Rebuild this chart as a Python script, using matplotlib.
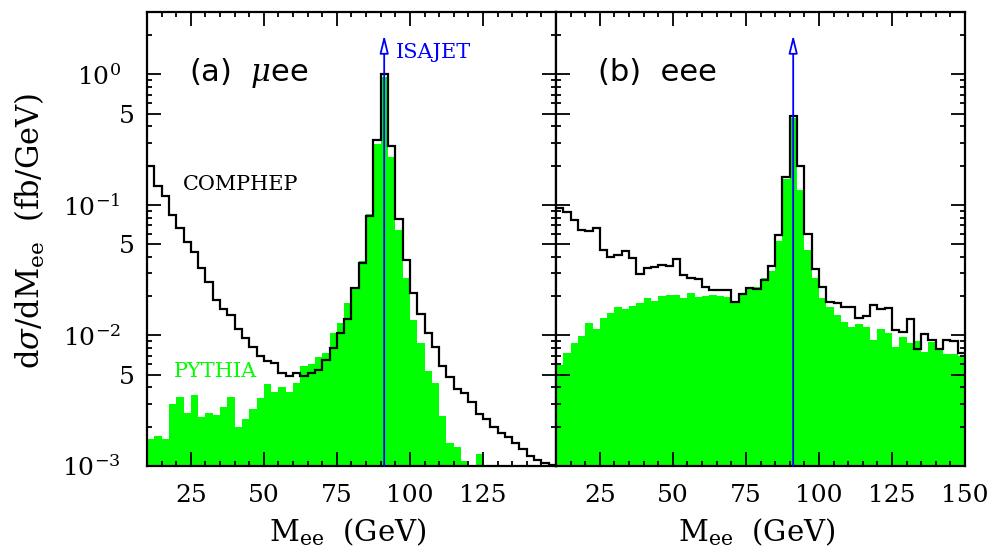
import matplotlib

matplotlib.use("Agg")
import matplotlib.pyplot as plt
from matplotlib.ticker import FixedLocator, LogLocator, MultipleLocator, NullFormatter, FixedFormatter
import numpy as np

plt.rcParams["mathtext.fontset"] = "dejavuserif"
plt.rcParams["font.family"] = "DejaVu Serif"

# 2.5 GeV bins from 10 to 150 GeV
BIN_EDGES = np.arange(10.0, 152.5, 2.5)
Z_MASS = 91.19
ARROW_TOP = 2.0

# panel (a) mu e e
COMPHEP_MUEE = [
    0.200, 0.139, 0.116, 0.084, 0.067, 0.052, 0.0436, 0.0329, 0.0257, 0.0186,
    0.0158, 0.0144, 0.0112, 0.0096, 0.0082, 0.0070, 0.0064, 0.0061, 0.0052, 0.0049,
    0.0052, 0.0049, 0.0052, 0.0054, 0.0065, 0.0080, 0.0105, 0.0133, 0.0229, 0.0356,
    0.0822, 0.312, 1.01, 0.284, 0.0773, 0.0377, 0.0212, 0.0145, 0.0104, 0.0081,
    0.0058, 0.0048, 0.0039, 0.0036, 0.0031, 0.0025, 0.0023, 0.0020, 0.0018, 0.00166,
    0.00151, 0.00134, 0.00120, 0.00112, 0.00105, 0.00102,
]
PYTHIA_MUEE = [
    0.0016, 0.0017, 0.00162, 0.0030, 0.0034, 0.00256, 0.0035, 0.00238, 0.00253, 0.00245,
    0.00284, 0.0034, 0.0020, 0.00229, 0.00274, 0.0033, 0.00424, 0.0037, 0.0040, 0.0037,
    0.00434, 0.00585, 0.0060, 0.00686, 0.00728, 0.0104, 0.0124, 0.0176, 0.0231, 0.0372,
    0.0857, 0.294, 0.953, 0.232, 0.0646, 0.0273, 0.0131, 0.0087, 0.0053, 0.0043,
    0.0024, 0.0015, 0.0014, 0.0011, 0.0, 0.00124, 0.0, 0.0, 0.0, 0.0,
    0.0, 0.0, 0.0, 0.0, 0.0, 0.0,
]

# panel (b) e e e
COMPHEP_EEE = [
    0.0953, 0.0877, 0.0772, 0.0646, 0.063, 0.0665, 0.0455, 0.0399, 0.0414, 0.0444,
    0.0393, 0.0294, 0.0326, 0.0335, 0.0349, 0.034, 0.0382, 0.0289, 0.0273, 0.027,
    0.0233, 0.0222, 0.0222, 0.0222, 0.0181, 0.0207, 0.0229, 0.0225, 0.0265, 0.0343,
    0.0586, 0.163, 0.482, 0.200, 0.0596, 0.0324, 0.0236, 0.0180, 0.0176, 0.0166,
    0.0166, 0.0135, 0.0140, 0.0172, 0.0158, 0.0163, 0.0110, 0.0106, 0.0133, 0.0079,
    0.0102, 0.0093, 0.0079, 0.0093, 0.0090, 0.0074,
]
PYTHIA_EEE = [
    0.0059, 0.0073, 0.0088, 0.0099, 0.0124, 0.0112, 0.0135, 0.0149, 0.0164, 0.0159,
    0.0168, 0.0177, 0.0194, 0.0184, 0.0200, 0.0203, 0.0203, 0.0195, 0.0213, 0.0197,
    0.0200, 0.0203, 0.0202, 0.0197, 0.0180, 0.0207, 0.0225, 0.0236, 0.0275, 0.031,
    0.053, 0.159, 0.466, 0.131, 0.045, 0.0273, 0.0195, 0.0164, 0.0144, 0.0126,
    0.0116, 0.0122, 0.0116, 0.0093, 0.0113, 0.0105, 0.0081, 0.0098, 0.0088, 0.0090,
    0.0075, 0.0089, 0.0079, 0.0072, 0.0072, 0.0070,
]

Y_TICKS = [1e-3, 5e-3, 1e-2, 5e-2, 1e-1, 5e-1, 1.0]
Y_TICK_LABELS = [r"$10^{-3}$", "5", r"$10^{-2}$", "5", r"$10^{-1}$", "5", r"$10^{0}$"]
X_TICKS_A = [25, 50, 75, 100, 125, 150]
X_TICK_LABELS_A = ["25", "50", "75", "100", "125", ""]
X_TICKS_B = [25, 50, 75, 100, 125, 150]

GREEN = "#00ff00"
BLUE = "#0000ff"


def _style_axis(ax, show_ylabels: bool) -> None:
    ax.set_yscale("log")
    ax.set_xlim(10, 150)
    ax.set_ylim(1e-3, 3.0)
    ax.xaxis.set_minor_locator(MultipleLocator(5))
    ax.yaxis.set_major_locator(FixedLocator(Y_TICKS))
    ax.yaxis.set_minor_locator(LogLocator(base=10, subs=(2, 3, 4, 6, 7, 8, 9)))
    ax.yaxis.set_minor_formatter(NullFormatter())
    ax.tick_params(which="both", direction="in", top=True, right=True, width=1.3, labelsize=18)
    ax.tick_params(which="major", length=10)
    ax.tick_params(which="minor", length=3.6)
    ax.tick_params(axis="x", which="major", pad=13)
    ax.tick_params(axis="y", which="major", pad=19)
    if show_ylabels:
        ax.yaxis.set_major_formatter(FixedFormatter(Y_TICK_LABELS))
        for tick, label in zip(ax.yaxis.get_major_ticks(), Y_TICK_LABELS):
            if label == "5":
                tick.set_pad(8.5)
    else:
        ax.tick_params(axis="y", labelleft=False)
    for spine in ax.spines.values():
        spine.set_linewidth(1.6)


def _plot_panel(ax, comphep, pythia) -> None:
    lefts = BIN_EDGES[:-1]
    ax.bar(lefts, pythia, width=2.5, align="edge", color=GREEN, linewidth=0, zorder=1)
    ax.stairs(comphep, BIN_EDGES, baseline=None, color="black", linewidth=1.6, zorder=2)
    ax.annotate(
        "",
        xy=(Z_MASS, ARROW_TOP),
        xytext=(Z_MASS, 1e-3),
        arrowprops=dict(
            arrowstyle="-|>,head_length=0.9,head_width=0.22",
            mutation_scale=12,
            fc="white",
            ec=BLUE,
            lw=1.3,
            shrinkA=0,
            shrinkB=0,
        ),
        zorder=3,
    )
    ax.set_xlabel(r"M$_{\rm ee}$  (GeV)", fontsize=21)
    ax.xaxis.set_label_coords(0.49, -0.112)


def main() -> None:
    fig = plt.figure(figsize=(9.93, 5.49), dpi=100)
    fig.patch.set_facecolor("white")
    ax_a = fig.add_axes([147 / 993, 1 - 466 / 549, 409 / 993, 454 / 549])
    ax_b = fig.add_axes([556 / 993, 1 - 466 / 549, 409 / 993, 454 / 549])

    _plot_panel(ax_a, COMPHEP_MUEE, PYTHIA_MUEE)
    _plot_panel(ax_b, COMPHEP_EEE, PYTHIA_EEE)

    _style_axis(ax_a, True)
    _style_axis(ax_b, False)
    ax_a.set_xticks(X_TICKS_A, X_TICK_LABELS_A)
    ax_b.set_xticks(X_TICKS_B)

    ax_a.set_ylabel(r"d$\sigma$/dM$_{\rm ee}$  (fb/GeV)", fontsize=22)
    ax_a.yaxis.set_label_coords(-0.244, 0.518)

    ax_a.text(24.4, 1.03, r"(a)  $\mu$ee", fontsize=22, family="DejaVu Sans", ha="left", va="center")
    ax_b.text(24.4, 1.03, "(b)  eee", fontsize=22, family="DejaVu Sans", ha="left", va="center")
    ax_a.text(22.4, 0.144, "COMPHEP", fontsize=15, color="black", ha="left", va="center")
    ax_a.text(19.3, 0.00528, "PYTHIA", fontsize=15, color=GREEN, ha="left", va="center")
    ax_a.text(95.3, 1.46, "ISAJET", fontsize=15, color=BLUE, ha="left", va="center")

    fig.savefig("out.png", dpi=100)
    plt.close(fig)


if __name__ == "__main__":
    main()
